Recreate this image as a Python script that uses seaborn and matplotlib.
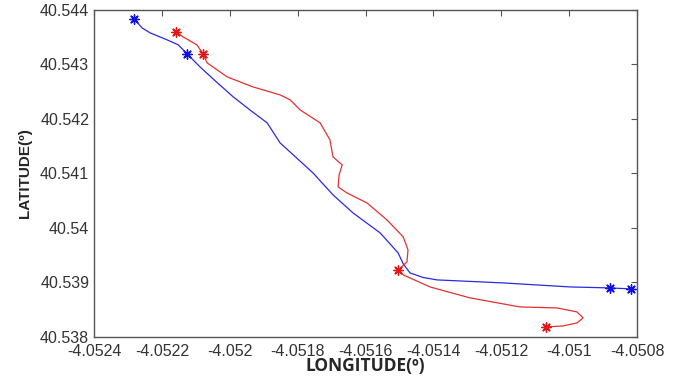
import matplotlib
matplotlib.use("Agg")
import matplotlib.pyplot as plt
import seaborn as sns

# ruta azul (lon, lat)
blue_lon = [-4.052282, -4.052259, -4.052235, -4.052185, -4.052152, -4.052126,
            -4.052088, -4.052040, -4.051990, -4.051940, -4.051890, -4.051852,
            -4.051755, -4.051696, -4.051637, -4.051557, -4.051504, -4.051489,
            -4.051469, -4.051430, -4.051389, -4.051195, -4.050997, -4.050880,
            -4.050818]
blue_lat = [40.543835, 40.543670, 40.543578, 40.543450, 40.543358, 40.543193,
            40.542954, 40.542680, 40.542404, 40.542160, 40.541927, 40.541560,
            40.541009, 40.540606, 40.540275, 40.539908, 40.539541, 40.539339,
            40.539174, 40.539090, 40.539046, 40.538991, 40.538917, 40.538899,
            40.538881]
blue_stars = [0, 5, 23, 24]

# ruta roja (lon, lat)
red_lon = [-4.052158, -4.052138, -4.052097, -4.052079, -4.052067, -4.052008,
           -4.051932, -4.051852, -4.051822, -4.051793, -4.051734, -4.051705,
           -4.051696, -4.051669, -4.051678, -4.051681, -4.051655, -4.051596,
           -4.051537, -4.051489, -4.051475, -4.051478, -4.051504, -4.051489,
           -4.051410, -4.051292, -4.051145, -4.051036, -4.050977, -4.050959,
           -4.050977, -4.051018, -4.051068]
red_lat = [40.543596, 40.543505, 40.543358, 40.543193, 40.543028, 40.542771,
           40.542587, 40.542440, 40.542349, 40.542165, 40.541927, 40.541615,
           40.541303, 40.541156, 40.540973, 40.540752, 40.540642, 40.540459,
           40.540147, 40.539835, 40.539596, 40.539376, 40.539229, 40.539138,
           40.538917, 40.538716, 40.538550, 40.538532, 40.538459, 40.538349,
           40.538257, 40.538202, 40.538183]
red_stars = [0, 3, 22, 32]

x_ticks = [-4.0524, -4.0522, -4.0520, -4.0518, -4.0516, -4.0514, -4.0512, -4.0510, -4.0508]
x_labels = ["-4.0524", "-4.0522", "-4.052", "-4.0518", "-4.0516", "-4.0514", "-4.0512", "-4.051", "-4.0508"]
y_ticks = [40.538, 40.539, 40.540, 40.541, 40.542, 40.543, 40.544]
y_labels = ["40.538", "40.539", "40.54", "40.541", "40.542", "40.543", "40.544"]

sns.set_style("white")
plt.rcParams["font.family"] = ["Liberation Sans", "DejaVu Sans"]

fig = plt.figure(figsize=(6.77, 3.79), dpi=100)
ax = fig.add_axes([0.139, 0.111, 0.802, 0.863])

sns.lineplot(x=blue_lon, y=blue_lat, sort=False, estimator=None, color="#2a2ae0", lw=0.9, ax=ax)
sns.lineplot(x=red_lon, y=red_lat, sort=False, estimator=None, color="#e43030", lw=0.9, ax=ax)

star = (8, 2, 0)
sns.scatterplot(x=[blue_lon[i] for i in blue_stars], y=[blue_lat[i] for i in blue_stars],
                marker=star, s=45, color="#1010e0", edgecolor="#1010e0", linewidth=1.0, ax=ax, zorder=5)
sns.scatterplot(x=[red_lon[i] for i in red_stars], y=[red_lat[i] for i in red_stars],
                marker=star, s=45, color="#e01818", edgecolor="#e01818", linewidth=1.0, ax=ax, zorder=5)

ax.set_xlim(-4.0524, -4.0508)
ax.set_ylim(40.538, 40.544)
ax.set_xticks(x_ticks)
ax.set_xticklabels(x_labels)
ax.set_yticks(y_ticks)
ax.set_yticklabels(y_labels)
ax.tick_params(direction="in", length=4, width=0.8, colors="#555555", labelsize=11.5,
               top=True, right=True, labelcolor="#333333")
ax.tick_params(axis="x", pad=5)

for s in ax.spines.values():
    s.set_color("#555555")
    s.set_linewidth(1.0)

ax.set_xlabel("LONGITUDE(º)", fontsize=12.5, fontweight="bold", family=["Open Sans", "DejaVu Sans"], labelpad=-1)
ax.set_ylabel("LATITUDE(º)", fontsize=11, fontweight="bold", family=["Liberation Sans Narrow", "Liberation Sans"], labelpad=6)

fig.savefig("out.png", dpi=100)
